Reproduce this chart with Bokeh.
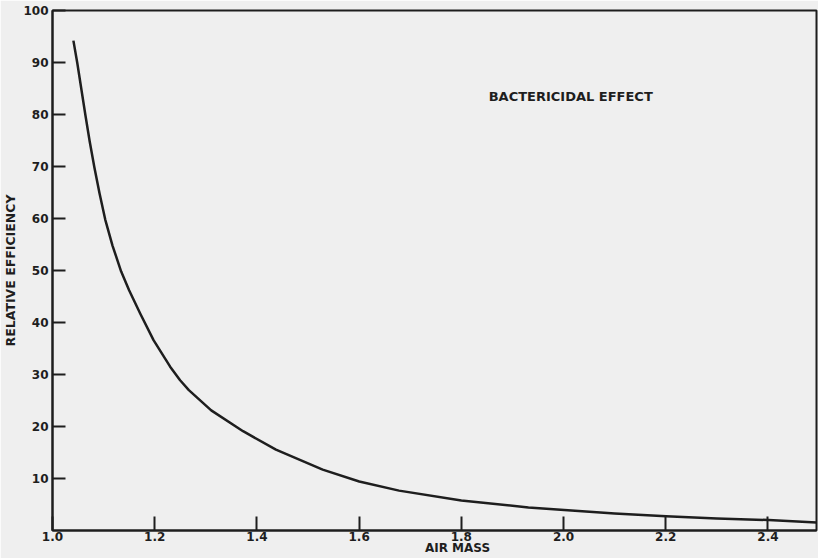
from bokeh.plotting import figure
from bokeh.models import Range1d, FixedTicker, Label
from bokeh.embed import file_html
from bokeh.resources import INLINE

# Curve (air mass vs relative efficiency)
air_mass = [1.0409, 1.0485, 1.0645, 1.0728, 1.0820, 1.0921, 1.1032, 1.1174,
            1.1344, 1.1499, 1.1723, 1.1977, 1.2302, 1.2497, 1.2668, 1.3106,
            1.3729, 1.4372, 1.5287, 1.6002, 1.6781, 1.80, 1.9313, 2.0014,
            2.1, 2.2006, 2.3, 2.4012, 2.495]
efficiency = [94.2, 89.9, 79.8, 74.8, 69.8, 64.8, 59.8, 54.8,
              49.8, 46.2, 41.6, 36.6, 31.5, 28.9, 27.0, 23.1,
              19.1, 15.55, 11.7, 9.43, 7.67, 5.77, 4.43, 3.95,
              3.28, 2.74, 2.3, 2.01, 1.55]

x_ticks = [1.0, 1.2, 1.4, 1.6, 1.8, 2.0, 2.2, 2.4]
x_tick_labels = ["1.0", "1.2", "1.4", "1.6", "1.8", "2.0", "2.2", "2.4"]
y_ticks = [10, 20, 30, 40, 50, 60, 70, 80, 90, 100]

INK = "#1e1e1e"
BG = "#efefef"
FONT = "DejaVu Sans"
NBSP = "\u00a0"

p = figure(width=818, height=558, output_backend="svg", toolbar_location=None,
           x_range=Range1d(1.0, 2.495), y_range=Range1d(0, 100),
           min_border_left=49, min_border_right=2, min_border_top=10,
           min_border_bottom=28)

p.background_fill_color = BG
p.border_fill_color = BG
p.outline_line_color = INK
p.outline_line_width = 2
p.grid.visible = False

p.line(air_mass, efficiency, line_color=INK, line_width=2.5, line_join="round")

# x axis
xa = p.xaxis[0]
xa.ticker = FixedTicker(ticks=x_ticks)
xa.major_label_overrides = {t: l for t, l in zip(x_ticks, x_tick_labels)}
xa.major_tick_in = 14
xa.major_tick_out = 0
xa.minor_tick_in = 0
xa.minor_tick_out = 0
xa.axis_line_color = INK
xa.axis_line_width = 2
xa.major_tick_line_color = INK
xa.major_tick_line_width = 2
xa.major_label_standoff = 1
xa.major_label_text_font = FONT
xa.major_label_text_font_style = "bold"
xa.major_label_text_font_size = "12px"
xa.major_label_text_color = INK
# label sits right of the frame centre in the reference
xa.axis_label = NBSP * 11 + "AIR MASS"
xa.axis_label_standoff = -3
xa.axis_label_text_font = FONT
xa.axis_label_text_font_style = "bold"
xa.axis_label_text_font_size = "12px"
xa.axis_label_text_color = INK

# y axis
ya = p.yaxis[0]
ya.ticker = FixedTicker(ticks=y_ticks)
ya.major_tick_in = 13
ya.major_tick_out = 0
ya.minor_tick_in = 0
ya.minor_tick_out = 0
ya.axis_line_color = INK
ya.axis_line_width = 2
ya.major_tick_line_color = INK
ya.major_tick_line_width = 2
ya.major_label_standoff = 4
ya.major_label_text_font = FONT
ya.major_label_text_font_style = "bold"
ya.major_label_text_font_size = "12px"
ya.major_label_text_color = INK
ya.axis_label = "RELATIVE EFFICIENCY"
ya.axis_label_standoff = 2
ya.axis_label_text_font = FONT
ya.axis_label_text_font_style = "bold"
ya.axis_label_text_font_size = "12.5px"
ya.axis_label_text_color = INK

p.add_layout(Label(x=2.0185, y=83.4, text="BACTERICIDAL  EFFECT", text_align="center",
                   text_baseline="middle", text_font=FONT,
                   text_font_style="bold", text_font_size="13px",
                   text_color=INK))

open("out.html", "w").write(file_html(p, INLINE))
